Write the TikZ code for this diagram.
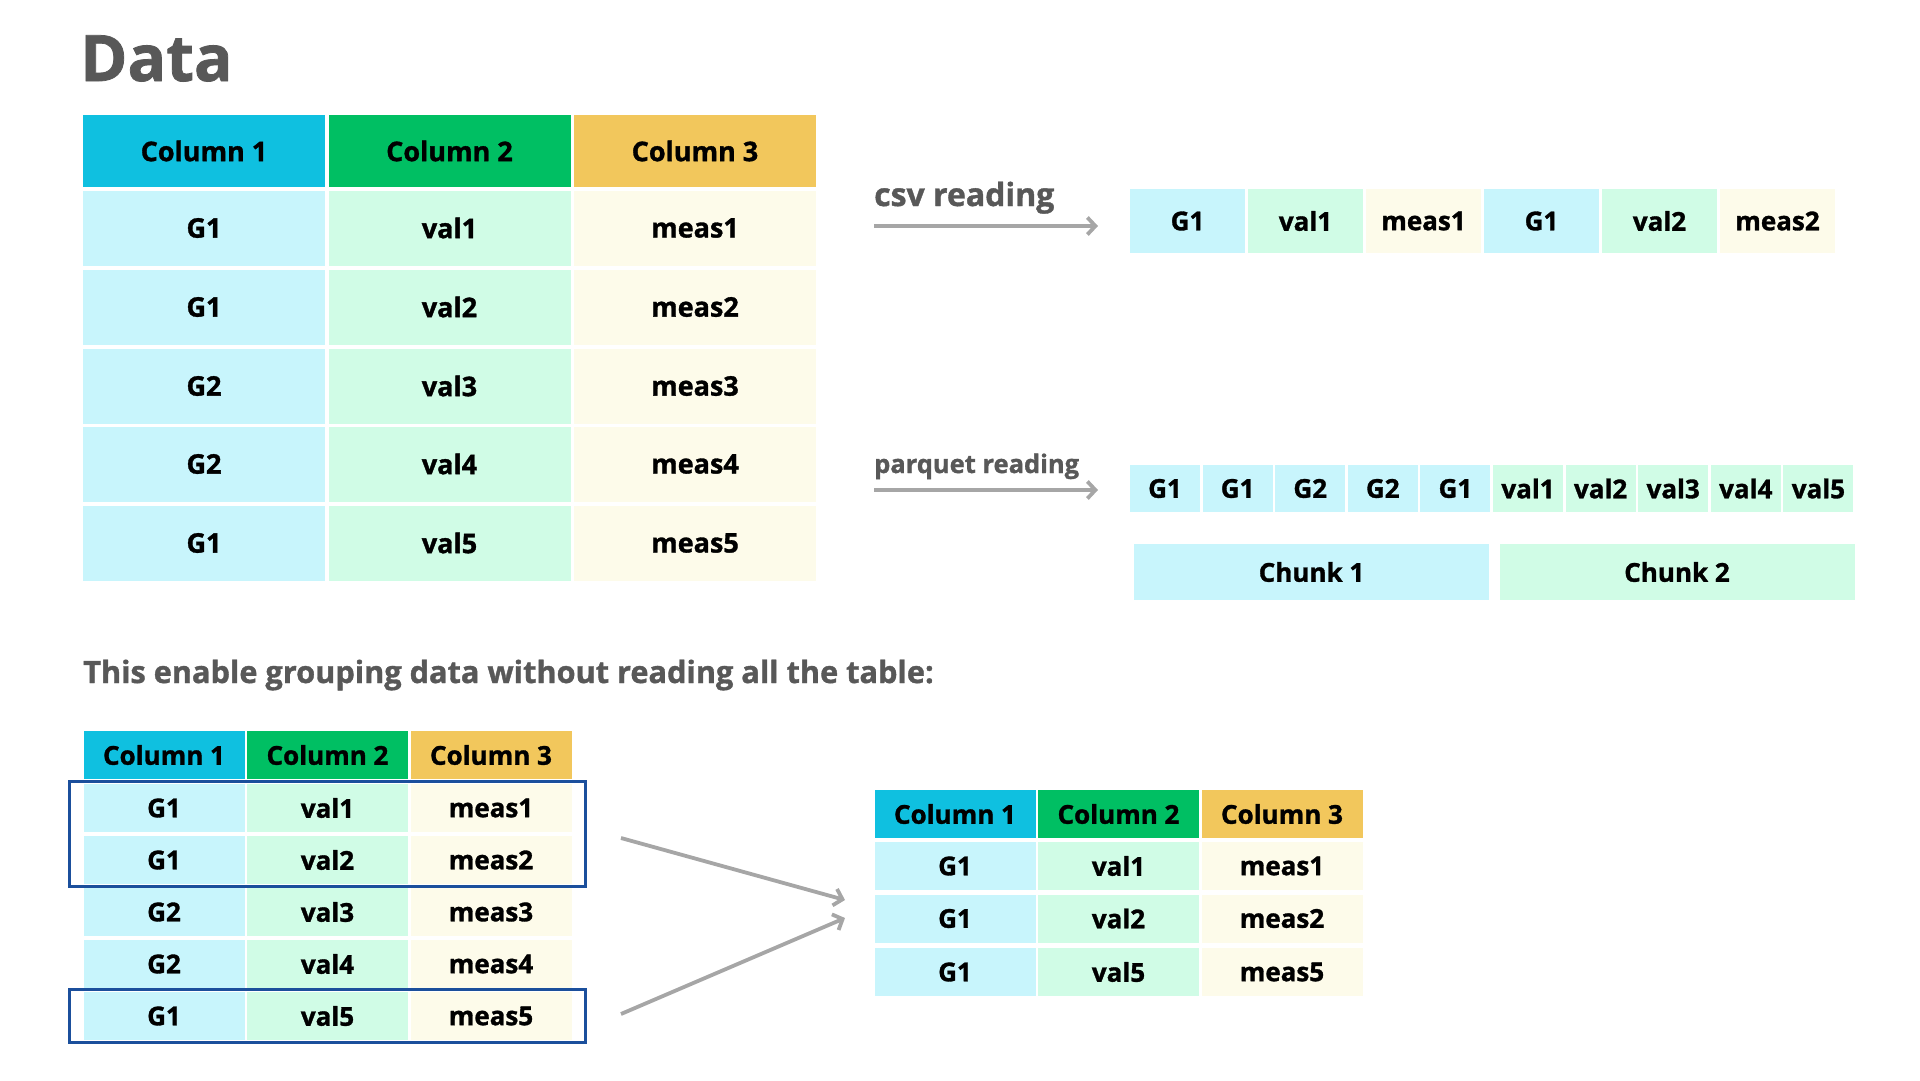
\documentclass[tikz,border=0pt]{standalone}
\usepackage{fontspec}
\setmainfont{Open Sans}[BoldFeatures={FakeBold=1.2}]
\usetikzlibrary{arrows.meta,fit}
\definecolor{hdcyan}{HTML}{0FC0E0}
\definecolor{hdgreen}{HTML}{00BF63}
\definecolor{hdgold}{HTML}{F2C75C}
\definecolor{grpfill}{HTML}{C8F5FC}
\definecolor{valfill}{HTML}{D0FCE6}
\definecolor{measfill}{HTML}{FDFBEA}
\definecolor{txtgray}{HTML}{585858}
\definecolor{arrgray}{HTML}{A6A6A6}
\definecolor{selblue}{HTML}{1B4F9C}
\begin{document}
\begin{tikzpicture}[x=1pt,y=-1pt,
  cell/.style={inner sep=0pt,font=\fontsize{26}{30}\selectfont\bfseries},
  hd1/.style={fill=hdcyan}, hd2/.style={fill=hdgreen}, hd3/.style={fill=hdgold},
  grp/.style={fill=grpfill}, valc/.style={fill=valfill}, measc/.style={fill=measfill},
  top head/.style={cell,font=\fontsize{27}{32}\selectfont\bfseries,minimum width=242pt,minimum height=72pt},
  top cell/.style={cell,font=\fontsize{27}{32}\selectfont\bfseries,minimum width=242pt,minimum height=75pt},
  csv cell/.style={cell,minimum width=115pt,minimum height=64pt},
  pq cell/.style={cell,minimum width=70pt,minimum height=47pt},
  chunk cell/.style={cell,minimum width=355pt,minimum height=56pt},
  small cell/.style={cell,minimum width=161pt,minimum height=48pt},
  label/.style={inner sep=0pt,anchor=base west,text=txtgray,font=\bfseries},
  read arrow/.style={draw=arrgray,line width=3.8pt,-{Straight Barb[length=8pt,width=17pt]}},
  sel box/.style={draw=selblue,line width=3.3pt,inner xsep=14pt,inner ysep=2pt}]
\useasboundingbox (0,0) rectangle (1920,1080);
\node [label,font=\fontsize{64}{72}\selectfont\bfseries](ttl) at (80,81) {Data};
\begin{scope}
\node [top head,hd1](th1) at (204,151) {Column 1};
\node [top head,hd2](th2) at (449.5,151) {Column 2};
\node [top head,hd3](th3) at (695,151) {Column 3};
\node [top cell,grp](t11) at (204,228) {G1};
\node [top cell,valc](t12) at (449.5,228) {val1};
\node [top cell,measc](t13) at (695,228) {meas1};
\node [top cell,grp](t21) at (204,307) {G1};
\node [top cell,valc](t22) at (449.5,307) {val2};
\node [top cell,measc](t23) at (695,307) {meas2};
\node [top cell,grp](t31) at (204,386) {G2};
\node [top cell,valc](t32) at (449.5,386) {val3};
\node [top cell,measc](t33) at (695,386) {meas3};
\node [top cell,grp](t41) at (204,464) {G2};
\node [top cell,valc](t42) at (449.5,464) {val4};
\node [top cell,measc](t43) at (695,464) {meas4};
\node [top cell,grp](t51) at (204,543) {G1};
\node [top cell,valc](t52) at (449.5,543) {val5};
\node [top cell,measc](t53) at (695,543) {meas5};
\end{scope}
\node [label,font=\fontsize{32}{38}\selectfont\bfseries](csvlbl) at (874,206) {csv reading};
\coordinate (csvA) at (874,226);
\coordinate (csvB) at (1098,226);
\node [csv cell,grp](c1) at (1187.5,221) {G1};
\node [csv cell,valc](c2) at (1305.5,221) {val1};
\node [csv cell,measc](c3) at (1423.5,221) {meas1};
\node [csv cell,grp](c4) at (1541.5,221) {G1};
\node [csv cell,valc](c5) at (1659.5,221) {val2};
\node [csv cell,measc](c6) at (1777.5,221) {meas2};
\node [label,font=\fontsize{25.5}{30}\selectfont\bfseries](pqlbl) at (874,473) {parquet reading};
\coordinate (pqA) at (874,490);
\coordinate (pqB) at (1098,490);
\node [pq cell,grp](p1) at (1165,488.5) {G1};
\node [pq cell,grp](p2) at (1237.6,488.5) {G1};
\node [pq cell,grp](p3) at (1310.2,488.5) {G2};
\node [pq cell,grp](p4) at (1382.8,488.5) {G2};
\node [pq cell,grp](p5) at (1455.4,488.5) {G1};
\node [pq cell,valc](p6) at (1528,488.5) {val1};
\node [pq cell,valc](p7) at (1600.6,488.5) {val2};
\node [pq cell,valc](p8) at (1673.2,488.5) {val3};
\node [pq cell,valc](p9) at (1745.8,488.5) {val4};
\node [pq cell,valc](p10) at (1818.4,488.5) {val5};
\node [chunk cell,grp](k1) at (1311.5,572) {Chunk 1};
\node [chunk cell,valc](k2) at (1677,572) {Chunk 2};
\node [label,font=\fontsize{30.7}{36}\selectfont\bfseries](note) at (83,683) {This enable grouping data without reading all the table:};
\begin{scope}
\node [small cell,hd1](bh1) at (164,755) {Column 1};
\node [small cell,hd2](bh2) at (327.5,755) {Column 2};
\node [small cell,hd3](bh3) at (491,755) {Column 3};
\node [small cell,grp](b11) at (164,808) {G1};
\node [small cell,valc](b12) at (327.5,808) {val1};
\node [small cell,measc](b13) at (491,808) {meas1};
\node [small cell,grp](b21) at (164,860) {G1};
\node [small cell,valc](b22) at (327.5,860) {val2};
\node [small cell,measc](b23) at (491,860) {meas2};
\node [small cell,grp](b31) at (164,912) {G2};
\node [small cell,valc](b32) at (327.5,912) {val3};
\node [small cell,measc](b33) at (491,912) {meas3};
\node [small cell,grp](b41) at (164,964) {G2};
\node [small cell,valc](b42) at (327.5,964) {val4};
\node [small cell,measc](b43) at (491,964) {meas4};
\node [small cell,grp](b51) at (164,1016) {G1};
\node [small cell,valc](b52) at (327.5,1016) {val5};
\node [small cell,measc](b53) at (491,1016) {meas5};
\end{scope}
\node [sel box,fit=(b11)(b23)](sel1) {};
\node [sel box,fit=(b51)(b53)](sel2) {};
\begin{scope}
\node [small cell,hd1](rh1) at (955,814) {Column 1};
\node [small cell,hd2](rh2) at (1118.5,814) {Column 2};
\node [small cell,hd3](rh3) at (1282,814) {Column 3};
\node [small cell,grp](r11) at (955,866) {G1};
\node [small cell,valc](r12) at (1118.5,866) {val1};
\node [small cell,measc](r13) at (1282,866) {meas1};
\node [small cell,grp](r21) at (955,918.5) {G1};
\node [small cell,valc](r22) at (1118.5,918.5) {val2};
\node [small cell,measc](r23) at (1282,918.5) {meas2};
\node [small cell,grp](r31) at (955,972) {G1};
\node [small cell,valc](r32) at (1118.5,972) {val5};
\node [small cell,measc](r33) at (1282,972) {meas5};
\end{scope}
\coordinate (grpA) at (621,838);
\coordinate (grpB) at (621,1014);
\coordinate (grpC) at (845,900);
\coordinate (grpD) at (845,918);
\path
	(csvA) edge [read arrow] (csvB)
	(pqA) edge [read arrow] (pqB)
	(grpA) edge [read arrow] (grpC)
	(grpB) edge [read arrow] (grpD)
	;
\end{tikzpicture}
\end{document}
